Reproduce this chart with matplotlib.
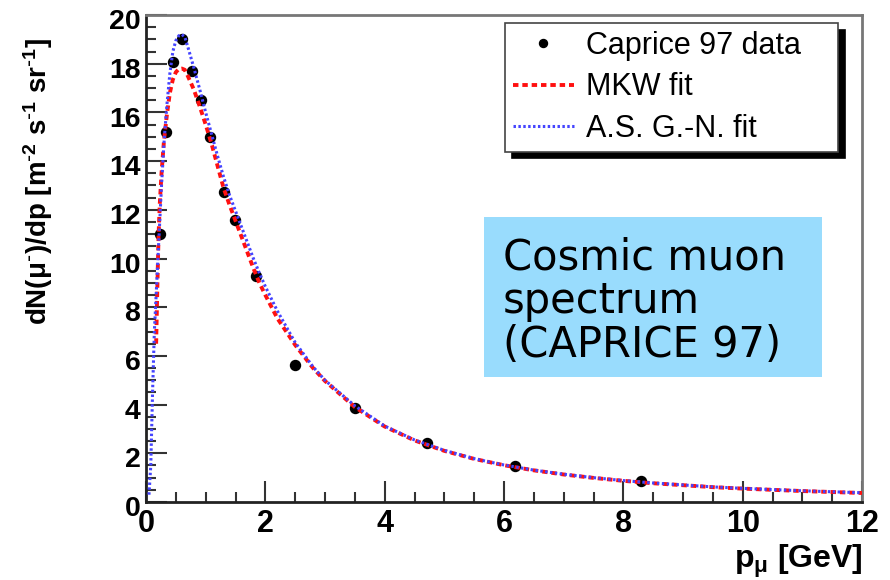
import matplotlib
matplotlib.use("Agg")
import matplotlib.pyplot as plt
from matplotlib.patches import Rectangle
from matplotlib.ticker import MultipleLocator
from matplotlib.transforms import ScaledTranslation

# ---- data ----
data_p = [0.24, 0.34, 0.45, 0.61, 0.77, 0.92, 1.07, 1.31, 1.49, 1.84, 2.50, 3.51, 4.71, 6.19, 8.29]
data_flux = [11.0, 15.2, 18.05, 19.0, 17.7, 16.5, 15.0, 12.75, 11.6, 9.3, 5.63, 3.85, 2.42, 1.46, 0.85]

mkw_p = [0.17, 0.19, 0.21, 0.23, 0.26, 0.30, 0.35, 0.40, 0.45, 0.50, 0.55, 0.60, 0.65, 0.70,
         0.80, 0.90, 1.00, 1.10, 1.20, 1.30, 1.40, 1.50, 1.60, 1.70, 1.80, 1.90, 2.00, 2.20,
         2.50, 2.80, 3.00, 3.50, 4.00, 4.50, 5.00, 5.50, 6.00, 6.50, 7.00, 7.50, 8.00, 8.50,
         9.00, 9.50, 10.0, 10.5, 11.0, 11.5, 12.0]
mkw_flux = [6.5, 8.8, 10.9, 12.2, 13.5, 14.8, 15.9, 16.8, 17.35, 17.65, 17.78, 17.8, 17.75, 17.5,
            16.95, 16.25, 15.5, 14.7, 13.8, 12.9, 12.2, 11.55, 10.9, 10.25, 9.6, 9.0, 8.5, 7.55,
            6.45, 5.5, 4.97, 3.9, 3.1, 2.53, 2.1, 1.77, 1.51, 1.3, 1.13, 0.99, 0.87, 0.77,
            0.69, 0.61, 0.55, 0.50, 0.45, 0.41, 0.37]

asgn_p = [0.05, 0.08, 0.11, 0.14, 0.18, 0.22, 0.26, 0.30, 0.35, 0.40, 0.45, 0.50, 0.55, 0.60,
          0.65, 0.70, 0.80, 0.90, 1.00, 1.10, 1.20, 1.30, 1.40, 1.50, 1.60, 1.70, 1.80, 1.90,
          2.00, 2.20, 2.50, 2.80, 3.00, 3.50, 4.00, 4.50, 5.00, 5.50, 6.00, 6.50, 7.00, 7.50,
          8.00, 8.50, 9.00, 9.50, 10.0, 10.5, 11.0, 11.5, 12.0]
asgn_flux = [0.3, 1.5, 4.5, 7.0, 9.0, 11.0, 13.0, 14.7, 16.3, 17.6, 18.5, 18.95, 19.15, 19.2,
             19.1, 18.7, 17.85, 16.95, 16.0, 15.1, 14.2, 13.35, 12.6, 11.95, 11.3, 10.65, 10.0, 9.4,
             8.85, 7.85, 6.55, 5.55, 5.0, 3.95, 3.12, 2.55, 2.12, 1.78, 1.52, 1.31, 1.14, 1.0,
             0.88, 0.78, 0.70, 0.62, 0.56, 0.51, 0.46, 0.42, 0.38]

legend_labels = ["Caprice 97 data", "MKW fit", "A.S. G.-N. fit"]
x_ticks = [0, 2, 4, 6, 8, 10, 12]
y_ticks = [0, 2, 4, 6, 8, 10, 12, 14, 16, 18, 20]
box_lines = ["Cosmic muon", "spectrum", "(CAPRICE 97)"]

plt.rcParams['font.family'] = ['Liberation Sans', 'DejaVu Sans']
plt.rcParams['mathtext.default'] = 'regular'

W, H = 890, 580
fig = plt.figure(figsize=(8.9, 5.8), dpi=100)
ax = fig.add_axes([146/W, 1-502/H, (862-146)/W, (502-15)/H])

pts, = ax.plot(data_p, data_flux, 'o', color='black', markersize=7.2, zorder=2, linestyle='none')
red, = ax.plot(mkw_p, mkw_flux, color='#ff1010', lw=2.8, linestyle=(0, (1.4, 1.0)), zorder=3)
blue, = ax.plot(asgn_p, asgn_flux, color='#4444ff', lw=2.2, linestyle=(0, (0.8, 0.8)), zorder=4)

ax.set_xlim(0, 12)
ax.set_ylim(0, 20)
ax.set_xticks(x_ticks)
ax.set_yticks(y_ticks)
ax.xaxis.set_minor_locator(MultipleLocator(0.5))
ax.yaxis.set_minor_locator(MultipleLocator(0.5))
ax.tick_params(which='both', direction='in', color='#333333', width=1.5, top=False, right=False)
ax.tick_params(which='major', length=15)
ax.tick_params(which='minor', length=7.5)
ax.tick_params(axis='y', which='major', labelsize=20.5, pad=4)
ax.tick_params(axis='x', which='major', labelsize=22, pad=5)
shift = ScaledTranslation(0, -3/72, fig.dpi_scale_trans)
for lab in ax.get_yticklabels():
    lab.set_fontweight('bold')
    lab.set_transform(lab.get_transform() + shift)
for lab in ax.get_xticklabels():
    lab.set_fontweight('bold')

for s in ['left', 'bottom']:
    ax.spines[s].set_color('#222222')
    ax.spines[s].set_linewidth(2)
for s in ['top', 'right']:
    ax.spines[s].set_color('#777777')
    ax.spines[s].set_linewidth(2)

fig.text(38/W, 1-38/H, r'dN($\mu^{\text{-}}$)/dp [m$^{\text{-}2}$ s$^{\text{-}1}$ sr$^{\text{-}1}$]',
         rotation=90, ha='center', va='top', fontsize=20, fontweight='bold')
fig.text(863/W, 1-568/H, r'p$_{\mu}$ [GeV]', ha='right', va='baseline',
         fontsize=23, fontweight='bold')

# legend
leg = ax.legend([pts, red, blue], legend_labels, loc='upper left',
                bbox_to_anchor=(505/W, 1-145/H, (838-505)/W, (145-23)/H),
                bbox_transform=fig.transFigure, mode='expand',
                fontsize=22, frameon=True, fancybox=False, edgecolor='#444444',
                framealpha=1, borderpad=0.25, handlelength=2.0, handletextpad=0.4,
                labelspacing=0.38, borderaxespad=0, markerscale=0.8,
                shadow={'color': 'black', 'alpha': 1, 'ox': 5, 'oy': -5})
leg.get_frame().set_linewidth(1.2)

# annotation box
fig.patches.append(Rectangle((484/W, 1-377/H), (822-484)/W, (377-217)/H,
                             transform=fig.transFigure, facecolor='#99dcfd',
                             edgecolor='none', zorder=5))
for line, base in zip(box_lines, [270, 313, 357]):
    fig.text(503/W, 1-base/H, line, ha='left', va='baseline',
             fontsize=30, family='DejaVu Sans', zorder=6)

fig.savefig('out.png', dpi=100)
